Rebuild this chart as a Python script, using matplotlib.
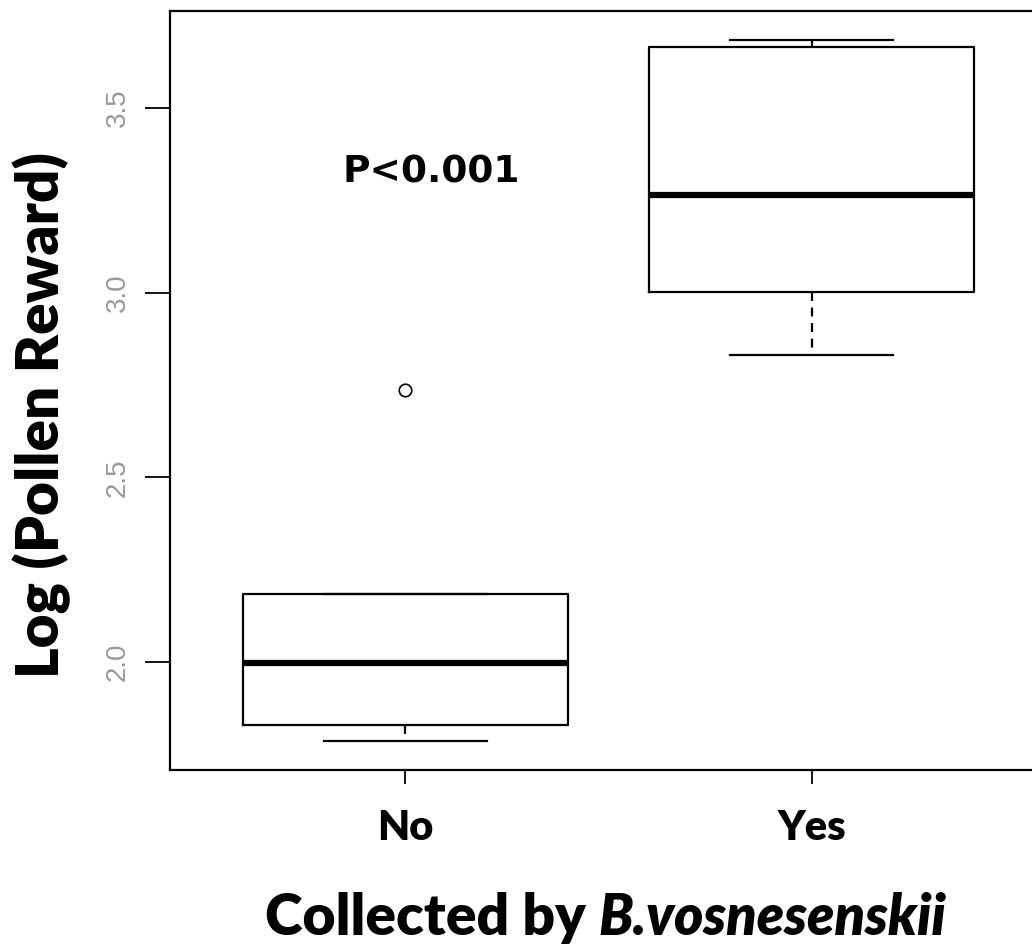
import matplotlib.pyplot as plt

# valeurs
groups = ['No', 'Yes']
medians = [1.997, 3.264]
q1 = [1.829, 3.003]
q3 = [2.184, 3.665]
whis_lo = [1.786, 2.832]
whis_hi = [2.184, 3.684]
outliers = [[2.737], []]
y_ticks = [2.0, 2.5, 3.0, 3.5]

fig = plt.figure(figsize=(10.32, 9.46), dpi=100)
ax = fig.add_axes([170 / 1032, 176 / 946, 877 / 1032, 759 / 946])

stats = []
for i in range(len(groups)):
    stats.append({'med': medians[i], 'q1': q1[i], 'q3': q3[i],
                  'whislo': whis_lo[i], 'whishi': whis_hi[i],
                  'fliers': outliers[i], 'label': groups[i]})

ax.bxp(stats, positions=[1, 2], widths=0.8, showfliers=True,
       boxprops=dict(color='black', linewidth=1.6),
       medianprops=dict(color='black', linewidth=4.5, solid_capstyle='butt'),
       whiskerprops=dict(color='black', linewidth=1.6, linestyle=(0, (4, 3))),
       capprops=dict(color='black', linewidth=1.6),
       capwidths=0.4,
       flierprops=dict(marker='o', markerfacecolor='none', markeredgecolor='black',
                       markersize=9, markeredgewidth=1.2))

ax.set_xlim(0.42, 2.58)
ax.set_ylim(1.708, 3.763)

ax.set_yticks(y_ticks)
ax.set_yticklabels([str(v) for v in y_ticks], rotation=90, va='center',
                   fontsize=20, color='#999999', fontfamily='Liberation Sans')
ax.tick_params(axis='y', length=18, width=1.3, pad=10)
ax.tick_params(axis='x', length=10, width=1.3, pad=18)
ax.set_xticks([1, 2])
ax.set_xticklabels(groups, fontsize=30, fontweight='heavy', fontfamily='Lato')

for s in ax.spines.values():
    s.set_linewidth(1.6)

ax.text(1.064, 3.327, 'P<0.001', fontsize=27, fontweight='bold', fontfamily='DejaVu Sans',
        ha='center', va='center')

ax.set_ylabel('Log (Pollen Reward)', fontsize=42, fontweight='heavy', fontfamily='Lato')
ax.yaxis.set_label_coords(-0.113, 0.468)

# titre de l'axe x en deux morceaux (normal + italique)
fig.text(586 / 1032, 1 - 935 / 946, 'Collected by', fontsize=41, fontweight='heavy',
         fontfamily='Lato', ha='right', va='baseline')
fig.text(598 / 1032, 1 - 935 / 946, 'B.vosnesenskii', fontsize=40, fontweight='heavy',
         fontstyle='italic', fontfamily='Lato', ha='left', va='baseline')

fig.savefig('out.png', dpi=100)
